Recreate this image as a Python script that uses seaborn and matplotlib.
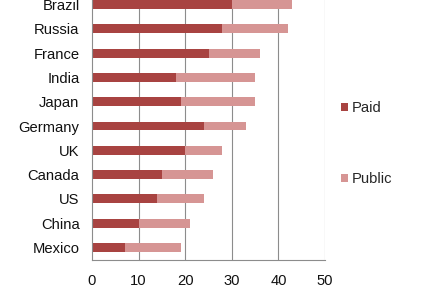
import matplotlib
matplotlib.use("Agg")
import matplotlib.pyplot as plt
import seaborn as sns
import pandas as pd
from matplotlib.patches import Patch

countries = ["Brazil", "Russia", "France", "India", "Japan", "Germany",
             "UK", "Canada", "US", "China", "Mexico"]
paid = [30, 28, 25, 18, 19, 24, 20, 15, 14, 10, 7]
public = [13, 14, 11, 17, 16, 9, 8, 11, 10, 11, 12]
x_ticks = [0, 10, 20, 30, 40, 50]

dark = "#A84341"
light = "#D69594"
grid_c = "#8C8C8C"

df = pd.DataFrame({"country": countries, "paid": paid, "public": public})
df["total"] = df["paid"] + df["public"]

sns.set_theme(style="white")
plt.rcParams["font.family"] = ["Liberation Sans", "DejaVu Sans"]

fig = plt.figure(figsize=(4.36, 2.91), dpi=100)
ax = fig.add_axes([92 / 436, 0.1077, (325 - 92) / 436, 0.9186])

sns.barplot(data=df, x="total", y="country", orient="h", color=light,
            saturation=1, width=0.37, linewidth=0, ax=ax, order=countries)
sns.barplot(data=df, x="paid", y="country", orient="h", color=dark,
            saturation=1, width=0.37, linewidth=0, ax=ax, order=countries)

ax.set_xlim(0, 50)
ax.set_ylim(10.5, -0.5)
ax.set_xticks(x_ticks)
ax.set_xlabel("")
ax.set_ylabel("")
ax.set_axisbelow(True)
for v in x_ticks[1:]:
    ax.axvline(v, color=grid_c, lw=0.8, zorder=0)

for s in ["top", "right"]:
    ax.spines[s].set_visible(False)
for s in ["left", "bottom"]:
    ax.spines[s].set_color(grid_c)
    ax.spines[s].set_linewidth(0.8)

ax.tick_params(axis="y", which="major", length=0, pad=9, labelsize=10.6, labelcolor="#111111")
ax.set_yticks([i - 0.5 for i in range(12)], minor=True)
ax.tick_params(axis="y", which="minor", length=4, color=grid_c, width=0.8, direction="out")
ax.tick_params(axis="x", which="major", length=4, color=grid_c, width=0.8, direction="out",
               labelsize=10.6, labelcolor="#111111", pad=6)

handles = [Patch(facecolor=dark, edgecolor="none"), Patch(facecolor=light, edgecolor="none")]
fig.legend(handles, ["Paid", "Public"], loc="center left",
           bbox_to_anchor=(341 / 436, 1 - 143.5 / 291), frameon=False,
           fontsize=10.6, labelspacing=3.85, handlelength=0.45, handleheight=0.45,
           handletextpad=0.3, borderpad=0, borderaxespad=0)

fig.savefig("out.png", dpi=100)
